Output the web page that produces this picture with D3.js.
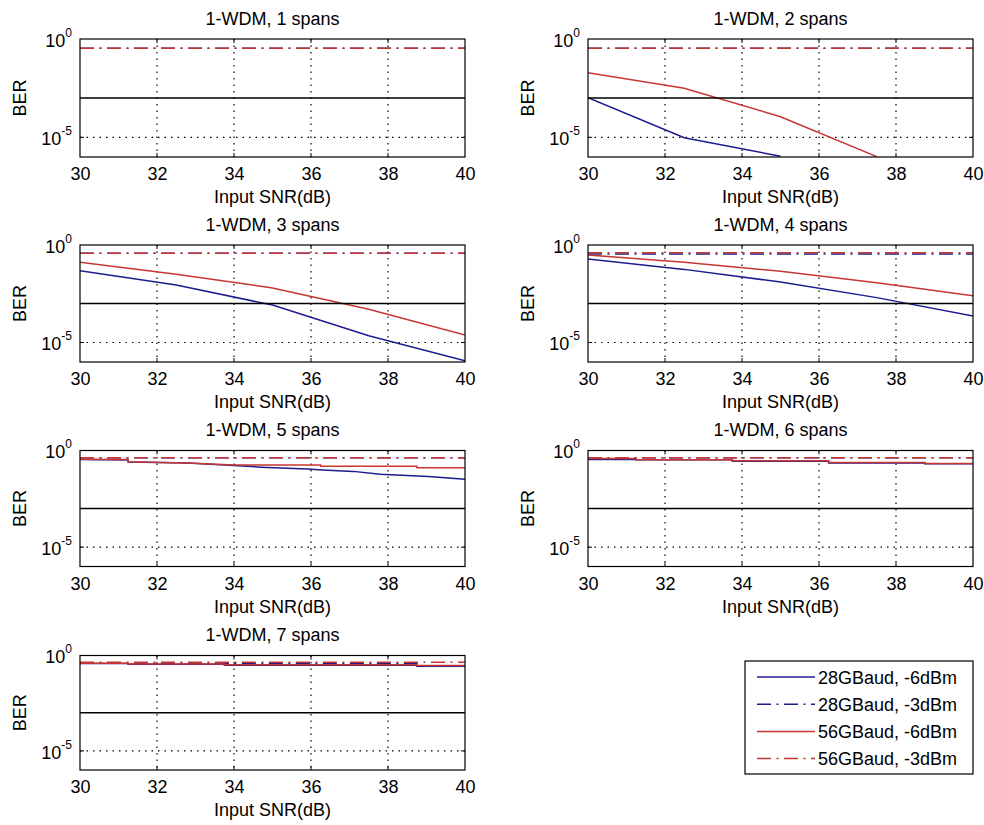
<!DOCTYPE html>
<html>
<head>
<meta charset="utf-8">
<script src="https://cdn.jsdelivr.net/npm/d3@7"></script>
<style>
  body { margin: 0; background: #fff; }
  svg text { font-family: "Liberation Sans", Arial, Helvetica, sans-serif; fill: #000; }
</style>
</head>
<body>
<svg id="chart" width="984" height="825"></svg>
<script>
// ---- data -------------------------------------------------------------
const spans = [1, 2, 3, 4, 5, 6, 7];
const snrTicks = [30, 32, 34, 36, 38, 40];
const berTickExponents = [0, -5];
const seriesNames = ["28GBaud, -6dBm", "28GBaud, -3dBm", "56GBaud, -6dBm", "56GBaud, -3dBm"];
const berLimit = 1e-3;

// [input SNR (dB), BER] per span, one list per span
const ber28Gm6 = [
  [],
  [[30, 1.05e-3], [32.5, 9.5e-6], [35, 1.1e-6]],
  [[30, 0.0479], [32.5, 8.91e-3], [35, 8.32e-4], [37.5, 2.24e-5], [40, 1.17e-6]],
  [[30, 0.191], [32.5, 0.0562], [35, 0.0126], [37.5, 2.0e-3], [40, 2.29e-4]],
  [[30, 0.339], [31.25, 0.324], [31.25, 0.251], [32.8, 0.224], [34.7, 0.138], [35.9, 0.110],
   [36.3, 0.0977], [37.1, 0.0832], [37.8, 0.0589], [39.05, 0.0447], [40, 0.0324]],
  [[30, 0.339], [31.25, 0.339], [31.25, 0.331], [33.75, 0.331], [33.75, 0.282], [36.25, 0.282],
   [36.25, 0.229], [38.75, 0.229], [38.75, 0.204], [40, 0.204]],
  [[30, 0.380], [31.25, 0.380], [31.25, 0.347], [33.75, 0.347], [33.75, 0.309], [38.75, 0.309],
   [38.75, 0.275], [40, 0.275]]
];
const ber28Gm3 = [
  [[30, 0.339], [40, 0.339]],
  [[30, 0.339], [40, 0.339]],
  [[30, 0.372], [40, 0.372]],
  [[30, 0.347], [40, 0.347]],
  [[30, 0.427], [40, 0.427]],
  [[30, 0.417], [40, 0.417]],
  [[30, 0.389], [31.25, 0.389], [31.25, 0.398], [38.75, 0.398], [38.75, 0.282], [40, 0.282]]
];
const ber56Gm6 = [
  [],
  [[30, 0.0195], [32.5, 3.1e-3], [35, 1.12e-4], [37.5, 1.05e-6]],
  [[30, 0.129], [32.5, 0.0316], [35, 6.31e-3], [37.5, 5.01e-4], [40, 2.4e-5]],
  [[30, 0.309], [32.5, 0.132], [35, 0.0447], [37.5, 0.0117], [40, 2.51e-3]],
  [[30, 0.355], [31.25, 0.339], [31.25, 0.263], [32.8, 0.229], [34, 0.178], [36.25, 0.178],
   [36.25, 0.151], [38.75, 0.151], [38.75, 0.129], [40, 0.129]],
  [[30, 0.380], [31.25, 0.380], [31.25, 0.331], [33.75, 0.331], [33.75, 0.295], [36.25, 0.295],
   [36.25, 0.240], [38.75, 0.240], [38.75, 0.214], [40, 0.214]],
  [[30, 0.398], [31.25, 0.398], [31.25, 0.355], [33.75, 0.355], [33.75, 0.331], [38.75, 0.331],
   [38.75, 0.295], [40, 0.295]]
];
const ber56Gm3 = [
  [[30, 0.339], [40, 0.339]],
  [[30, 0.339], [40, 0.339]],
  [[30, 0.372], [40, 0.372]],
  [[30, 0.398], [40, 0.398]],
  [[30, 0.427], [40, 0.427]],
  [[30, 0.417], [40, 0.417]],
  [[30, 0.447], [40, 0.447]]
];

// ---- layout & style ------------------------------------------------------
const colLeft = [80, 588];
const colWidth = 385;
const rowTop = [39, 245, 450.5, 655.5];
const rowHeight = [118, 117, 116, 114.5];
const fontSize = 18;
const blue = "#1c1c8f", red = "#c83535";
const dashDot = "14,5.5,2,5.5";
const seriesStyle = [
  { color: blue, dash: null },
  { color: blue, dash: dashDot },
  { color: red,  dash: null },
  { color: red,  dash: dashDot }
];
const seriesData = [ber28Gm6, ber28Gm3, ber56Gm6, ber56Gm3];

const svg = d3.select("#chart");
const defs = svg.append("defs");

spans.forEach((span, i) => {
  const col = i % 2, row = Math.floor(i / 2);
  const left = colLeft[col], top = rowTop[row], w = colWidth, h = rowHeight[row];

  const x = d3.scaleLinear().domain([30, 40]).range([left, left + w]);
  const y = d3.scaleLog().domain([1e-6, 1]).range([top + h, top]);

  const g = svg.append("g");
  const clipId = "clip-" + span;
  defs.append("clipPath").attr("id", clipId)
    .append("rect").attr("x", left).attr("y", top).attr("width", w).attr("height", h);

  // dotted grid
  const inner = snrTicks.filter(v => v > 30 && v < 40);
  const innerY = berTickExponents.filter(e => e > -6 && e < 0);
  g.selectAll(".gx").data(inner).join("line")
    .attr("x1", d => x(d)).attr("x2", d => x(d))
    .attr("y1", top).attr("y2", top + h)
    .attr("stroke", "#000").attr("stroke-width", 1.2).attr("stroke-dasharray", "1.5,5");
  g.selectAll(".gy").data(innerY).join("line")
    .attr("x1", left).attr("x2", left + w)
    .attr("y1", d => y(Math.pow(10, d))).attr("y2", d => y(Math.pow(10, d)))
    .attr("stroke", "#000").attr("stroke-width", 1.2).attr("stroke-dasharray", "1.5,5");

  // inward tick marks
  g.selectAll(".tb").data(inner).join("path")
    .attr("d", d => `M${x(d)},${top + h}v-4M${x(d)},${top}v4`)
    .attr("stroke", "#000").attr("stroke-width", 1);
  g.selectAll(".tl").data(innerY).join("path")
    .attr("d", d => `M${left},${y(Math.pow(10, d))}h4M${left + w},${y(Math.pow(10, d))}h-4`)
    .attr("stroke", "#000").attr("stroke-width", 1);

  // series
  const line = d3.line().x(d => x(d[0])).y(d => y(d[1]));
  const plot = g.append("g").attr("clip-path", `url(#${clipId})`);
  seriesData.forEach((arr, k) => {
    const pts = arr[i];
    if (!pts.length) return;
    plot.append("path")
      .attr("d", line(pts))
      .attr("fill", "none")
      .attr("stroke", seriesStyle[k].color)
      .attr("stroke-width", 1.5)
      .attr("stroke-dasharray", seriesStyle[k].dash);
  });
  // BER limit
  plot.append("line")
    .attr("x1", x(30)).attr("x2", x(40))
    .attr("y1", y(berLimit)).attr("y2", y(berLimit))
    .attr("stroke", "#000").attr("stroke-width", 1.5);

  // box
  g.append("rect").attr("x", left).attr("y", top).attr("width", w).attr("height", h)
    .attr("fill", "none").attr("stroke", "#000").attr("stroke-width", 1.2);

  // x axis labels
  const ax = g.append("g").attr("transform", `translate(0,${top + h})`)
    .call(d3.axisBottom(x).tickValues(snrTicks).tickSize(0).tickPadding(10.5).tickFormat(d3.format("d")));
  ax.select(".domain").remove();
  ax.selectAll("text").attr("font-size", fontSize).attr("font-family", null).attr("fill", "#000");

  // y axis labels with superscript exponents
  const ay = g.append("g").attr("transform", `translate(${left},0)`)
    .call(d3.axisLeft(y).tickValues(berTickExponents.map(e => Math.pow(10, e))).tickSize(0).tickPadding(8).tickFormat(""));
  ay.select(".domain").remove();
  ay.selectAll("text").each(function (d) {
    const t = d3.select(this).attr("font-size", fontSize).attr("font-family", null).attr("fill", "#000").attr("dy", "0.4em");
    t.append("tspan").text("10");
    t.append("tspan").attr("font-size", 12).attr("dy", -10).text(Math.round(Math.log10(d)));
  });

  // titles
  g.append("text").attr("x", left + w / 2).attr("y", top - 14.5)
    .attr("text-anchor", "middle").attr("font-size", fontSize)
    .text(`1-WDM, ${span} spans`);
  g.append("text").attr("x", left + w / 2).attr("y", top + h + 46)
    .attr("text-anchor", "middle").attr("font-size", fontSize)
    .text("Input SNR(dB)");
  g.append("text")
    .attr("transform", `translate(${left - 54},${top + h / 2}) rotate(-90)`)
    .attr("text-anchor", "middle").attr("font-size", fontSize)
    .text("BER");
});

// ---- legend -------------------------------------------------------------
const legend = svg.append("g");
legend.append("rect").attr("x", 745).attr("y", 661).attr("width", 228).attr("height", 113)
  .attr("fill", "#fff").attr("stroke", "#000").attr("stroke-width", 1.2);
seriesNames.forEach((name, k) => {
  const cy = 677 + k * 27.2;
  legend.append("line").attr("x1", 757).attr("x2", 815).attr("y1", cy).attr("y2", cy)
    .attr("stroke", seriesStyle[k].color).attr("stroke-width", 1.5)
    .attr("stroke-dasharray", seriesStyle[k].dash);
  legend.append("text").attr("x", 818).attr("y", cy + 6.5).attr("font-size", fontSize).text(name);
});
</script>
</body>
</html>
